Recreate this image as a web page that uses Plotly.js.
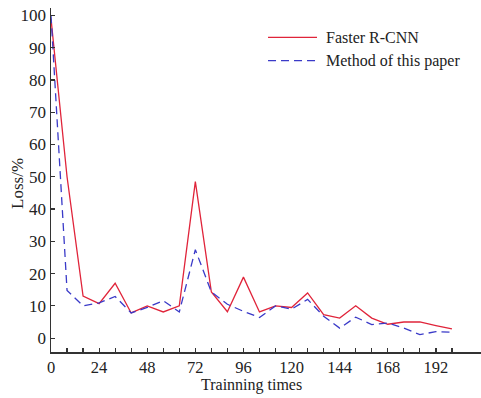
<!DOCTYPE html>
<html>
<head>
<meta charset="utf-8">
<script src="https://cdn.plot.ly/plotly-3.0.1.min.js"></script>
<style>
  html, body { margin: 0; padding: 0; background: #fff; }
  #chart { width: 481px; height: 398px; }
</style>
</head>
<body>
<div id="chart"></div>
<script>
// Training iterations (x) and loss (%) for the two detectors
const trainingTimes = [0, 8, 16, 24, 32, 40, 48, 56, 64, 72, 80, 88, 96, 104, 112, 120, 128, 136, 144, 152, 160, 168, 176, 184, 192, 200];
const fasterRcnnLoss = [99, 50, 13, 10.7, 17, 7.8, 10, 8.1, 10, 48.5, 14.3, 8.2, 18.9, 8.1, 10, 9.5, 14, 7.3, 6.2, 10, 6.2, 4.3, 5, 5, 3.9, 2.9];
const proposedLoss = [100, 14.8, 10, 10.9, 12.9, 7.8, 9.5, 11.6, 8.1, 27.4, 14.3, 10.5, 8.3, 6.4, 10, 9, 12, 6.8, 3.1, 6.5, 4.2, 4.7, 3.1, 1.1, 2, 1.8];
const seriesNames = ['Faster R-CNN', 'Method of this paper'];
const xTickLabels = [0, 24, 48, 72, 96, 120, 144, 168, 192];
const xMinorTicks = [0, 8, 16, 24, 32, 40, 48, 56, 64, 72, 80, 88, 96, 104, 112, 120, 128, 136, 144, 152, 160, 168, 176, 184, 192, 200];
const yTickLabels = [0, 10, 20, 30, 40, 50, 60, 70, 80, 90, 100];

const RED = '#e0243a';
const BLUE = '#3a3ac8';
const FONT = 'Liberation Serif, Times New Roman, serif';

const traces = [
  {
    x: trainingTimes, y: fasterRcnnLoss, name: seriesNames[0],
    type: 'scatter', mode: 'lines',
    line: { color: RED, width: 1.3 },
    showlegend: false
  },
  {
    x: trainingTimes, y: proposedLoss, name: seriesNames[1],
    type: 'scatter', mode: 'lines',
    line: { color: BLUE, width: 1.3, dash: '8px,5px' },
    showlegend: false
  }
];

// Hand-drawn legend: sample lines plus labels in the upper right
const legendRows = [
  { y: 0.9145, color: RED, dash: 'solid', label: seriesNames[0] },
  { y: 0.8468, color: BLUE, dash: '8px,5px', label: seriesNames[1] }
];
const shapes = legendRows.map(r => ({
  type: 'line', xref: 'paper', yref: 'paper',
  x0: 0.5047, x1: 0.6186, y0: r.y, y1: r.y,
  line: { color: r.color, width: 1.3, dash: r.dash }
}));
const annotations = legendRows.map(r => ({
  xref: 'paper', yref: 'paper', x: 0.635, y: r.y,
  xanchor: 'left', yanchor: 'middle', showarrow: false,
  text: r.label, font: { family: FONT, size: 16, color: '#222' }
}));
annotations.push({
  xref: 'paper', yref: 'paper', x: 0.466, y: -0.097,
  xanchor: 'center', yanchor: 'middle', showarrow: false,
  text: 'Trainning times', font: { family: FONT, size: 16, color: '#222' }
});
annotations.push({
  xref: 'paper', yref: 'paper', x: -0.078, y: 0.49,
  xanchor: 'center', yanchor: 'middle', showarrow: false, textangle: -90,
  text: 'Loss/%', font: { family: FONT, size: 17, color: '#222' }
});

const layout = {
  width: 481, height: 398,
  margin: { l: 51, r: 0, t: 8, b: 46 },
  paper_bgcolor: '#fff', plot_bgcolor: '#fff',
  font: { family: FONT, size: 17, color: '#222' },
  showlegend: false,
  xaxis: {
    range: [0, 214.5],
    tickmode: 'array', tickvals: xTickLabels, ticktext: xTickLabels.map(String),
    ticks: 'inside', ticklen: 4, tickwidth: 1.2, tickcolor: '#333',
    minor: { tickmode: 'array', tickvals: xMinorTicks, ticks: 'inside', ticklen: 4, tickwidth: 1.2, tickcolor: '#333' },
    showline: true, linecolor: '#333', linewidth: 1.5,
    showgrid: false, zeroline: false,
    tickfont: { family: FONT, size: 16.5, color: '#222' },
    fixedrange: true
  },
  yaxis: {
    range: [-4.3, 102.3],
    tickmode: 'array', tickvals: yTickLabels, ticktext: yTickLabels.map(String),
    ticks: 'inside', ticklen: 4, tickwidth: 1.2, tickcolor: '#333',
    showline: true, linecolor: '#333', linewidth: 1.5,
    showgrid: false, zeroline: false,
    tickfont: { family: FONT, size: 17, color: '#222' },
    fixedrange: true
  },
  shapes: shapes,
  annotations: annotations
};

Plotly.newPlot('chart', traces, layout, { staticPlot: true, displayModeBar: false });
</script>
</body>
</html>
